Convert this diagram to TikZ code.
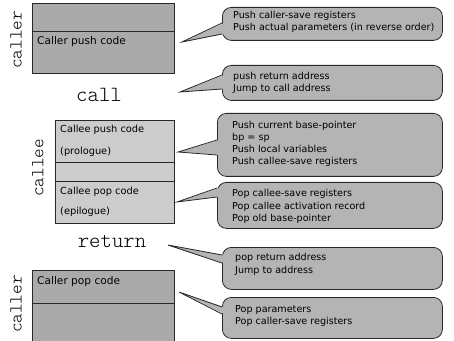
\documentclass[tikz,border=0pt]{standalone}
\usepackage{fontspec}
\setmainfont{DejaVu Sans}
\newfontfamily\codefont{lmmonolt10-regular.otf}
\definecolor{callerfill}{RGB}{170,170,170}
\definecolor{calleefill}{RGB}{204,204,204}
\definecolor{notefill}{RGB}{180,180,180}
\definecolor{edge}{RGB}{40,40,40}
\begin{document}
\begin{tikzpicture}[x=1pt,y=1pt,
  frame/.style={draw=edge, line width=0.8pt},
  boxtext/.style={anchor=west, inner sep=0pt, font=\fontsize{10.6}{12}\selectfont},
  calleetext/.style={anchor=west, inner sep=0pt, font=\fontsize{9.8}{11}\selectfont},
  note/.style={draw=edge, fill=notefill, line width=0.8pt, rounded corners=9pt,
    anchor=north west, inner sep=0pt},
  notetext/.style={anchor=west, align=left, inner sep=0pt,
    font=\fontsize{9.6}{12.3}\selectfont},
  wedgeline/.style={draw=edge, line width=0.8pt, line join=miter},
  sidelabel/.style={rotate=90, anchor=base, inner sep=0pt,
    font=\codefont\fontsize{18.3}{18}\selectfont},
  steplabel/.style={anchor=base, inner sep=0pt,
    font=\codefont\fontsize{21.7}{22}\selectfont}
]
\useasboundingbox (0,0) rectangle (454,340);

% caller frame (before the call)
\filldraw[frame, fill=callerfill] (32,337) rectangle (174,267);
\draw[frame] (32,309) -- (174,309);
\node[boxtext] (pushcode) at (37,298) {Caller push code};

% callee frame
\filldraw[frame, fill=calleefill] (55,220) rectangle (174,117);
\draw[frame] (55,178) -- (174,178);
\draw[frame] (55,159) -- (174,159);
\node[calleetext] (prologue1) at (60,210) {Callee push code};
\node[calleetext] (prologue2) at (60,188) {(prologue)};
\node[calleetext] (epilogue1) at (60,148) {Callee pop code};
\node[calleetext] (epilogue2) at (60,128) {(epilogue)};

% caller frame (after the return)
\filldraw[frame, fill=callerfill] (32,70) rectangle (174,-5);
\draw[frame] (32,37) -- (174,37);
\node[boxtext] (popcode) at (37,58) {Caller pop code};

% side and step labels
\node[sidelabel] (callerA) at (21.7,300) {caller};
\node[sidelabel] (callee) at (43.3,172) {callee};
\node[sidelabel] (callerB) at (21.7,36) {caller};
\node[steplabel] (call) at (99,238.3) {call};
\node[steplabel] (return) at (112,93) {return};

% note bubbles
\node[note, minimum width=220pt, minimum height=33pt] (n1) at (222,333) {};
\node[note, minimum width=220pt, minimum height=35pt] (n2) at (222,275) {};
\node[note, minimum width=225pt, minimum height=63pt] (n3) at (217,227) {};
\node[note, minimum width=225pt, minimum height=46pt] (n4) at (217,158) {};
\node[note, minimum width=220pt, minimum height=42pt] (n5) at (222,93) {};
\node[note, minimum width=220pt, minimum height=41pt] (n6) at (222,43) {};

% wedge tips and bases
\coordinate (t1) at (182,298); \coordinate (a1) at (222,317); \coordinate (b1) at (222,306);
\coordinate (t2) at (180,248); \coordinate (a2) at (222,265); \coordinate (b2) at (222,251);
\coordinate (t3) at (178,188); \coordinate (a3) at (217,200); \coordinate (b3) at (217,185);
\coordinate (t4) at (177,138); \coordinate (a4) at (217,152); \coordinate (b4) at (217,143);
\coordinate (t5) at (168,95);  \coordinate (a5) at (222,85);  \coordinate (b5) at (222,77);
\coordinate (t6) at (179,48);  \coordinate (a6) at (222,33);  \coordinate (b6) at (222,26);

\foreach \i in {1,...,6}{
  \fill[notefill] (t\i) -- ([xshift=2pt]a\i) -- ([xshift=2pt]b\i) -- cycle;
  \draw[wedgeline] (a\i) -- (t\i) -- (b\i);
}

% note texts
\node[notetext] (n1t) at ([xshift=11pt,yshift=2pt]n1.west)
  {Push caller-save registers\\Push actual parameters (in reverse order)};
\node[notetext] (n2t) at ([xshift=11pt]n2.west)
  {push return address\\Jump to call address};
\node[notetext] (n3t) at ([xshift=15pt,yshift=1pt]n3.west)
  {Push current base-pointer\\bp = sp\\Push local variables\\Push callee-save registers};
\node[notetext] (n4t) at ([xshift=15pt,yshift=-1pt]n4.west)
  {Pop callee-save registers\\Pop callee activation record\\Pop old base-pointer};
\node[notetext] (n5t) at ([xshift=13pt,yshift=4pt]n5.west)
  {pop return address\\Jump to address};
\node[notetext] (n6t) at ([xshift=13pt,yshift=2pt]n6.west)
  {Pop parameters\\Pop caller-save registers};
\end{tikzpicture}
\end{document}
